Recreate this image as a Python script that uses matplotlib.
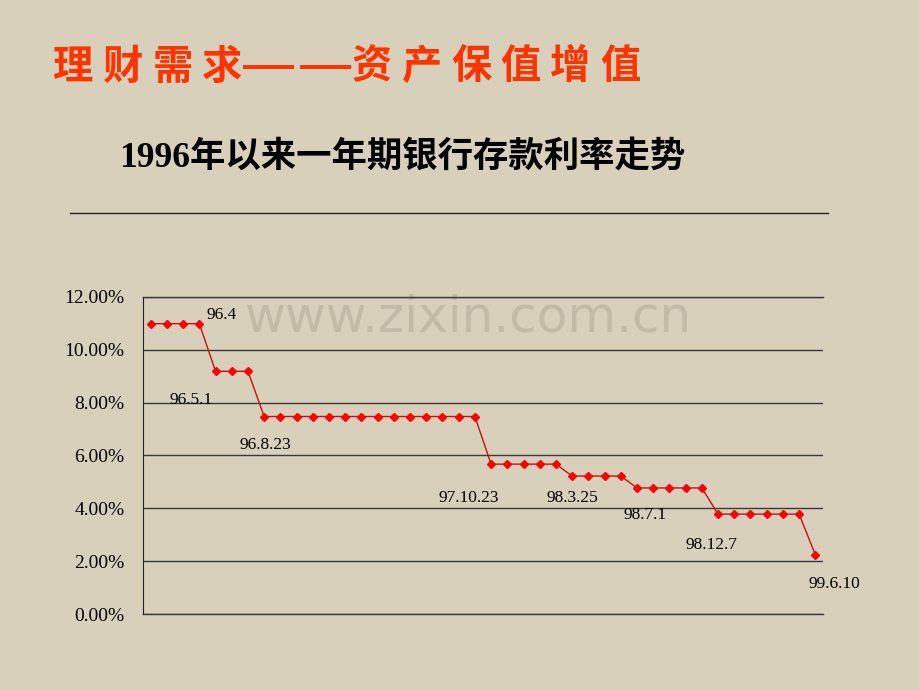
import matplotlib.pyplot as plt
from matplotlib.ticker import FuncFormatter

# 一年期存款利率 (%), 每次调整后的各期数值
rates = [10.98] * 4 + [9.18] * 3 + [7.47] * 14 + [5.67] * 5 + \
        [5.22] * 4 + [4.77] * 5 + [3.78] * 6 + [2.25]
x = list(range(len(rates)))

# 调息日期标注 (文字, x位置, y位置)
labels = ['96.4', '96.5.1', '96.8.23', '97.10.23', '98.3.25',
          '98.7.1', '98.12.7', '99.6.10']
label_x = [4.4, 2.5, 7.1, 19.6, 26.0, 30.5, 34.6, 42.2]
label_y = [11.3, 8.1, 6.4, 4.4, 4.4, 3.75, 2.6, 1.15]

yticks = [0, 2, 4, 6, 8, 10, 12]

# 标题逐字排列 (每字一格, 破折号占两格)
title_chars = ['理', '财', '需', '求', '——', '资', '产', '保', '值', '增', '值']
title_slot = [0, 1, 2, 3, 4.5, 6, 7, 8, 9, 10, 11]

bg = '#d9d0bb'
W, H = 920, 690
fig = plt.figure(figsize=(9.2, 6.9), dpi=100, facecolor=bg)

for ch, k in zip(title_chars, title_slot):
    px = 73 + 49.75 * k
    if ch == '——':
        fig.text(px / W, 1 - 67 / H, ch, fontsize=46, color='#ff3300',
                 family=['Noto Sans CJK SC'], va='center', ha='center')
    else:
        fig.text(px / W, 1 - 67 / H, ch, fontsize=29, color='#ff3300',
                 fontweight='bold', family=['Noto Sans CJK SC'],
                 va='center', ha='center')
fig.text(0.13, 1 - 158 / H, '1996年以来一年期银行存款利率走势', fontsize=25.5,
         fontweight='bold', family=['Liberation Serif', 'Noto Sans CJK SC'],
         va='center', ha='left')
fig.add_artist(plt.Line2D([0.076, 0.9], [1 - 213 / H, 1 - 213 / H],
                          color='#222222', lw=1))

ax = fig.add_axes([0.155, 0.11, 0.74, 0.46])
ax.set_facecolor(bg)
ax.plot(x, rates, color='#c81010', lw=1, marker='D', markersize=4,
        markerfacecolor='#ff0000', markeredgecolor='#ff0000', zorder=3)

for t, lx, ly in zip(labels, label_x, label_y):
    ax.text(lx, ly, t, fontsize=12.5, family='Liberation Serif',
            ha='center', va='center')

ax.text(19.6, 11.2, 'www.zixin.com.cn', fontsize=36, color='#9a9384',
        alpha=0.35, ha='center', va='center', family='DejaVu Sans', zorder=1)

ax.set_xlim(-0.5, len(rates) - 0.5)
ax.set_ylim(0, 12)
ax.set_yticks(yticks)
ax.yaxis.set_major_formatter(FuncFormatter(lambda v, p: '%.2f%%' % v))
ax.set_xticks([])
ax.grid(axis='y', color='#3a3a3a', lw=1)
ax.axhline(0, color='#3a3a3a', lw=1, clip_on=False)
ax.axhline(12, color='#3a3a3a', lw=1, clip_on=False)
ax.set_axisbelow(True)
for s in ['top', 'right', 'bottom']:
    ax.spines[s].set_visible(False)
ax.spines['left'].set_color('#222222')
ax.tick_params(axis='y', length=0, pad=13, labelsize=14)
for lab in ax.get_yticklabels():
    lab.set_family('Liberation Serif')

fig.savefig('out.png', dpi=100, facecolor=bg)
